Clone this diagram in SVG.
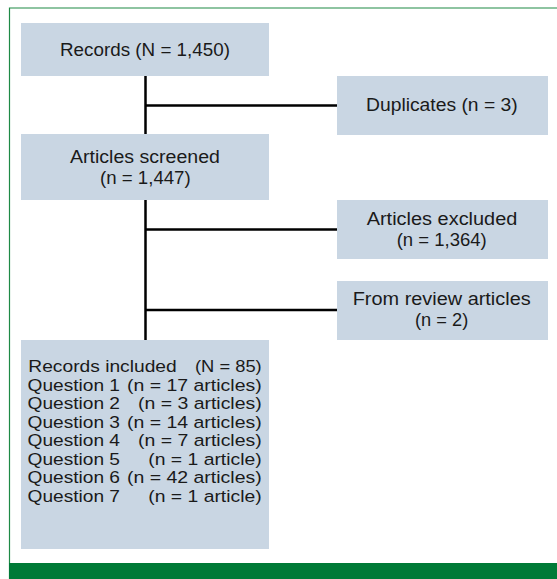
<svg xmlns="http://www.w3.org/2000/svg" width="557" height="579" viewBox="0 0 557 579">
<style>
.box{fill:#c9d6e3}
.t{font-family:"Liberation Sans",Arial,sans-serif;font-size:17.5px;fill:#1a1a1a}
.s{font-family:"Liberation Sans",Arial,sans-serif;font-size:16.3px;fill:#1a1a1a}
.ln{stroke:#000;stroke-width:2.5;fill:none}
</style>
<rect x="0" y="0" width="557" height="579" fill="#fff"/>
<path d="M9.5,579 V8 H557" fill="none" stroke="#1e8a45" stroke-width="1.2"/>
<rect x="9" y="563" width="548" height="16" fill="#007a37"/>
<g id="connectors">
<path class="ln" d="M145.5,76 V134 M145.5,105.5 H337 M145.5,200 V340 M145.5,229.5 H337 M145.5,310 H337"/>
</g>
<g id="records">
<rect class="box" x="21" y="23" width="248" height="53"/>
<text class="t" x="60" y="55.5" textLength="170" lengthAdjust="spacingAndGlyphs">Records (N = 1,450)</text>
</g>
<g id="duplicates">
<rect class="box" x="337" y="76" width="211" height="59"/>
<text class="t" x="366" y="111" textLength="151.7" lengthAdjust="spacingAndGlyphs">Duplicates (n = 3)</text>
</g>
<g id="screened">
<rect class="box" x="21" y="134" width="248" height="66"/>
<text class="t" x="70" y="162.5" textLength="150" lengthAdjust="spacingAndGlyphs">Articles screened</text>
<text class="t" x="100" y="184" textLength="90.7" lengthAdjust="spacingAndGlyphs">(n = 1,447)</text>
</g>
<g id="excluded">
<rect class="box" x="337" y="200" width="211" height="59"/>
<text class="t" x="366.7" y="224.5" textLength="150.7" lengthAdjust="spacingAndGlyphs">Articles excluded</text>
<text class="t" x="396.7" y="246" textLength="90" lengthAdjust="spacingAndGlyphs">(n = 1,364)</text>
</g>
<g id="review">
<rect class="box" x="337" y="281" width="211" height="59"/>
<text class="t" x="352.7" y="304.5" textLength="178" lengthAdjust="spacingAndGlyphs">From review articles</text>
<text class="t" x="415" y="326" textLength="53.3" lengthAdjust="spacingAndGlyphs">(n = 2)</text>
</g>
<g id="included">
<rect class="box" x="21" y="340" width="248" height="209"/>
<text class="s" x="28.3" y="372" textLength="148.4" lengthAdjust="spacingAndGlyphs">Records included</text>
<text class="s" x="195" y="372" textLength="66.7" lengthAdjust="spacingAndGlyphs">(N = 85)</text>
<text class="s" x="27.5" y="390.6" textLength="92.5" lengthAdjust="spacingAndGlyphs">Question 1</text>
<text class="s" x="127" y="390.6" textLength="134.7" lengthAdjust="spacingAndGlyphs">(n = 17 articles)</text>
<text class="s" x="27.5" y="409.1" textLength="92.5" lengthAdjust="spacingAndGlyphs">Question 2</text>
<text class="s" x="138" y="409.1" textLength="123.7" lengthAdjust="spacingAndGlyphs">(n = 3 articles)</text>
<text class="s" x="27.5" y="427.7" textLength="92.5" lengthAdjust="spacingAndGlyphs">Question 3</text>
<text class="s" x="127" y="427.7" textLength="134.7" lengthAdjust="spacingAndGlyphs">(n = 14 articles)</text>
<text class="s" x="27.5" y="446.3" textLength="92.5" lengthAdjust="spacingAndGlyphs">Question 4</text>
<text class="s" x="138" y="446.3" textLength="123.7" lengthAdjust="spacingAndGlyphs">(n = 7 articles)</text>
<text class="s" x="27.5" y="464.9" textLength="92.5" lengthAdjust="spacingAndGlyphs">Question 5</text>
<text class="s" x="148.3" y="464.9" textLength="113.4" lengthAdjust="spacingAndGlyphs">(n = 1 article)</text>
<text class="s" x="27.5" y="483.4" textLength="92.5" lengthAdjust="spacingAndGlyphs">Question 6</text>
<text class="s" x="127" y="483.4" textLength="134.7" lengthAdjust="spacingAndGlyphs">(n = 42 articles)</text>
<text class="s" x="27.5" y="502" textLength="92.5" lengthAdjust="spacingAndGlyphs">Question 7</text>
<text class="s" x="148.3" y="502" textLength="113.4" lengthAdjust="spacingAndGlyphs">(n = 1 article)</text>
</g>
</svg>
